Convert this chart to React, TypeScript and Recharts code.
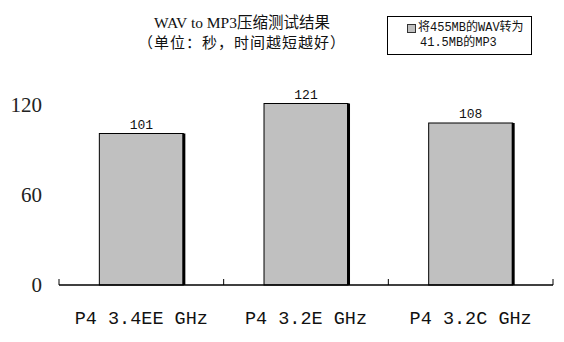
import { Bar, BarChart, LabelList, XAxis, YAxis } from "recharts";

const cpus = ["P4 3.4EE GHz", "P4 3.2E GHz", "P4 3.2C GHz"];
const seconds = [101, 121, 108];
const yTicks = [0, 60, 120];
const titleLines = ["WAV to MP3压缩测试结果", "（单位：秒，时间越短越好）"];
const legendLines = ["将455MB的WAV转为", "41.5MB的MP3"];

const data = cpus.map((cpu, i) => ({ cpu, seconds: seconds[i] }));

const serif = '"Liberation Serif", "Noto Sans CJK SC", serif';
const mono = '"Liberation Mono", "Noto Sans CJK SC", monospace';

/** Category label plus small up-ticks on the band edges, like the old Excel look. */
function CpuTick(props: any) {
  const { x, y, payload, index, visibleTicksCount } = props;
  const half = payload?.offset ?? 0;
  return (
    <g>
      <line x1={x - half} x2={x - half} y1={y} y2={y - 6} stroke="#000" />
      {index === visibleTicksCount - 1 && (
        <line x1={x + half} x2={x + half} y1={y} y2={y - 6} stroke="#000" />
      )}
      <text
        x={x}
        y={y + 34}
        textAnchor="middle"
        dominantBaseline="central"
        fontFamily={mono}
        fontSize={18.5}
        fill="#111"
      >
        {payload.value}
      </text>
    </g>
  );
}

function ShadedBar(props: any) {
  const { x, y, width, height } = props;
  return (
    <g>
      <rect x={x} y={y} width={width} height={height} fill="#c0c0c0" stroke="#000" strokeWidth={1} />
      <rect x={x + width - 1} y={y} width={3} height={height} fill="#000" />
    </g>
  );
}

export default function App() {
  return (
    <div
      style={{
        position: "absolute",
        left: 0,
        top: 0,
        width: 564,
        height: 342,
        background: "#fff",
      }}
    >
      <div
        style={{
          position: "absolute",
          left: 0,
          width: 484,
          top: 13,
          textAlign: "center",
          fontFamily: serif,
          fontSize: 15.5,
          lineHeight: "20px",
          color: "#111",
          whiteSpace: "nowrap",
        }}
      >
        <div>{titleLines[0]}</div>
        <div style={{ fontSize: 15, letterSpacing: 1 }}>{titleLines[1]}</div>
      </div>

      <div
        style={{
          position: "absolute",
          left: 387,
          top: 16,
          width: 143,
          height: 37,
          border: "1px solid #000",
          fontFamily: mono,
          fontSize: 12,
          lineHeight: "15px",
          color: "#111",
          whiteSpace: "nowrap",
        }}
      >
        <div style={{ position: "absolute", left: 19, top: 4, display: "flex", alignItems: "center" }}>
          <span
            style={{
              display: "inline-block",
              width: 7,
              height: 7,
              background: "#c0c0c0",
              border: "1px solid #333",
              marginRight: 2,
            }}
          />
          {legendLines[0]}
        </div>
        <div style={{ position: "absolute", left: 32, top: 19 }}>{legendLines[1]}</div>
      </div>

      <BarChart
        width={564}
        height={342}
        data={data}
        margin={{ top: 75, right: 11, left: 0, bottom: 0 }}
        barCategoryGap="24.5%"
      >
        <XAxis
          dataKey="cpu"
          height={57}
          interval={0}
          axisLine={{ stroke: "#000", strokeWidth: 1.5 }}
          tickLine={false}
          tickSize={0}
          tickMargin={0}
          tick={<CpuTick />}
        />
        <YAxis
          width={59}
          domain={[0, 140]}
          ticks={yTicks}
          axisLine={false}
          tickLine={false}
          tickSize={0}
          tickMargin={17}
          tick={{ fontSize: 21, fontFamily: serif, fill: "#222" }}
        />
        <Bar dataKey="seconds" shape={<ShadedBar />} isAnimationActive={false}>
          <LabelList
            dataKey="seconds"
            position="top"
            offset={5}
            fontSize={13}
            fontFamily={mono}
            fill="#111"
          />
        </Bar>
      </BarChart>
    </div>
  );
}
